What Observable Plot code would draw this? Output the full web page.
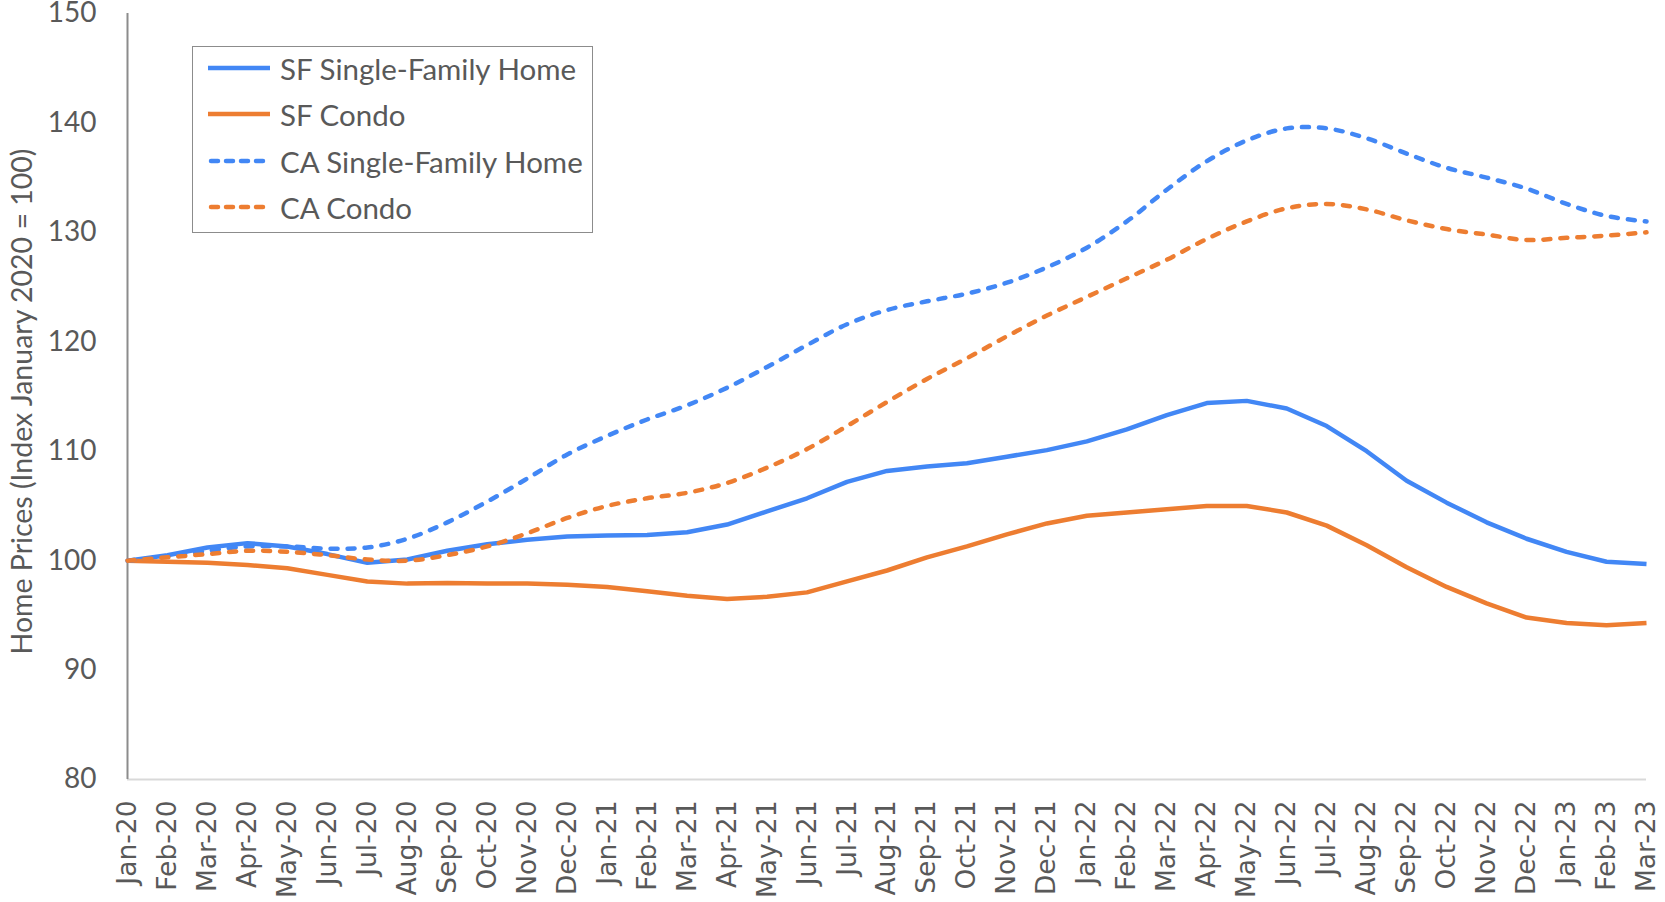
<!DOCTYPE html>
<html>
<head>
<meta charset="utf-8">
<script src="https://cdn.jsdelivr.net/npm/d3@7"></script>
<script src="https://cdn.jsdelivr.net/npm/@observablehq/plot@0.6"></script>
<style>
  html, body { margin: 0; padding: 0; background: #fff; }
  #wrap { position: relative; width: 1665px; height: 902px; overflow: hidden; }
  #legend { position: absolute; left: 192px; top: 46px; width: 399px; height: 185px;
            border: 1.5px solid #8c8c8c; background: #fff; box-sizing: content-box; }
  .row { position: absolute; left: 0; height: 40px; display: flex; align-items: center;
         font-family: Lato, "Open Sans", sans-serif; font-size: 29.5px; color: #595959; white-space: nowrap; }
  .row svg { margin-left: 15px; margin-right: 10px; }
</style>
</head>
<body>
<div id="wrap"></div>
<script>
const months = ["Jan-20","Feb-20","Mar-20","Apr-20","May-20","Jun-20","Jul-20","Aug-20","Sep-20","Oct-20","Nov-20","Dec-20",
  "Jan-21","Feb-21","Mar-21","Apr-21","May-21","Jun-21","Jul-21","Aug-21","Sep-21","Oct-21","Nov-21","Dec-21",
  "Jan-22","Feb-22","Mar-22","Apr-22","May-22","Jun-22","Jul-22","Aug-22","Sep-22","Oct-22","Nov-22","Dec-22",
  "Jan-23","Feb-23","Mar-23"];

const sfSingleFamily = [100,100.5,101.2,101.6,101.3,100.6,99.8,100.1,100.9,101.5,101.9,102.2,
  102.3,102.35,102.6,103.3,104.5,105.7,107.2,108.2,108.6,108.9,109.5,110.1,
  110.9,112.0,113.3,114.4,114.6,113.9,112.3,110.0,107.3,105.3,103.5,102.0,
  100.8,99.9,99.7];

const sfCondo = [100,99.9,99.8,99.6,99.3,98.7,98.1,97.9,97.95,97.9,97.9,97.8,
  97.6,97.2,96.8,96.5,96.7,97.1,98.1,99.1,100.3,101.3,102.4,103.4,
  104.1,104.4,104.7,105.0,105.0,104.4,103.2,101.4,99.4,97.6,96.1,94.8,
  94.3,94.1,94.3];

const caSingleFamily = [100,100.4,100.9,101.3,101.3,101.1,101.2,102.0,103.5,105.4,107.5,109.7,
  111.4,112.9,114.2,115.8,117.7,119.7,121.6,122.9,123.7,124.4,125.4,126.8,
  128.6,131.0,133.9,136.5,138.4,139.5,139.5,138.6,137.2,135.9,135.0,134.0,
  132.6,131.5,131.0];

const caCondo = [100,100.3,100.6,100.9,100.8,100.5,100.1,100.0,100.5,101.3,102.5,103.9,
  105.0,105.7,106.2,107.1,108.5,110.2,112.3,114.5,116.6,118.5,120.5,122.4,
  124.1,125.8,127.5,129.4,131.0,132.2,132.6,132.1,131.1,130.3,129.8,129.3,
  129.5,129.7,130.0];

const seriesNames = ["SF Single-Family Home","SF Condo","CA Single-Family Home","CA Condo"];
const seriesValues = [sfSingleFamily, sfCondo, caSingleFamily, caCondo];
const seriesColors = ["#4287f5","#ed7d31","#4287f5","#ed7d31"];
const seriesDashed = [false,false,true,true];
const yTicks = [80,90,100,110,120,130,140,150];
const yLabel = "Home Prices (Index January 2020 = 100)";

const tables = seriesValues.map((vals, s) => months.map((m, i) => ({month: m, value: vals[i], series: seriesNames[s]})));

const marks = [
  Plot.ruleY([80], {stroke: "#d9d9d9", strokeWidth: 2}),
  Plot.ruleX([months[0]], {y1: 80, y2: 150, stroke: "#8c8c8c", strokeWidth: 2}),
  Plot.axisY({ticks: yTicks, tickSize: 0, tickPadding: 31, fontSize: 28, fontFamily: "Lato, sans-serif", fill: "#595959", label: null}),
  Plot.axisX({tickRotate: -90, tickSize: 0, tickPadding: 21, fontSize: 26.5, fontFamily: "DejaVu Sans, sans-serif", fill: "#595959", label: null}),
  Plot.text([yLabel], {frameAnchor: "left", textAnchor: "middle", dx: -105, dy: 5, rotate: -90, fontSize: 28.5, fontFamily: "Lato, sans-serif", fill: "#595959"})
];
tables.forEach((t, s) => {
  marks.push(Plot.line(t, {
    x: "month", y: "value",
    stroke: seriesColors[s], strokeWidth: 4.5,
    strokeDasharray: seriesDashed[s] ? "7,10" : null,
    strokeLinecap: seriesDashed[s] ? "round" : "butt",
    strokeLinejoin: "round",
    curve: seriesDashed[s] ? "catmull-rom" : "linear"
  }));
});

const chart = Plot.plot({
  width: 1665, height: 902,
  marginLeft: 127, marginRight: 19, marginTop: 13, marginBottom: 123,
  x: {type: "point", domain: months, padding: 0},
  y: {domain: [80, 150]},
  style: {background: "#fff", overflow: "visible"},
  marks
});
const wrap = document.getElementById("wrap");
wrap.appendChild(chart);

const legend = document.createElement("div");
legend.id = "legend";
const rowTops = [1, 47, 94, 140];
seriesNames.forEach((name, s) => {
  const row = document.createElement("div");
  row.className = "row";
  row.style.top = rowTops[s] + "px";
  const dash = seriesDashed[s] ? 'stroke-dasharray="7,8" stroke-linecap="round"' : '';
  row.innerHTML = `<svg width="62" height="10"><line x1="${seriesDashed[s]?3:0}" y1="5" x2="${seriesDashed[s]?59:62}" y2="5" stroke="${seriesColors[s]}" stroke-width="4.5" ${dash}/></svg><span>${name}</span>`;
  legend.appendChild(row);
});
wrap.appendChild(legend);
</script>
</body>
</html>
